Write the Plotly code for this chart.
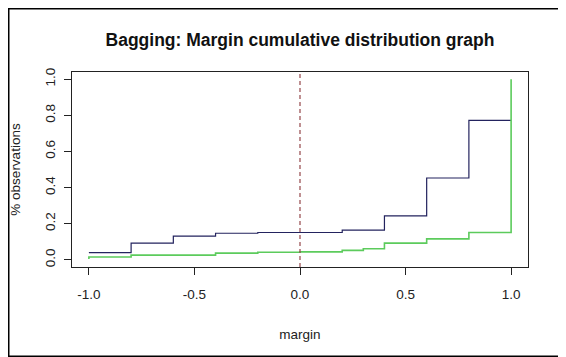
import plotly.graph_objects as go

# ---- data ----
blue_x = [-1.0, -0.8, -0.6, -0.4, -0.2, 0.2, 0.4, 0.6, 0.8, 1.0]
blue_y = [0.040, 0.092, 0.131, 0.147, 0.151, 0.164, 0.243, 0.453, 0.772, 0.772]

green_x = [-1.0, -1.0, -0.8, -0.4, -0.2, 0.0, 0.2, 0.3, 0.4, 0.6, 0.8, 1.0]
green_y = [0.005, 0.015, 0.026, 0.037, 0.042, 0.044, 0.052, 0.061, 0.092, 0.116, 0.151, 1.0]

x_ticks = [-1.0, -0.5, 0.0, 0.5, 1.0]
x_tick_labels = ["-1.0", "-0.5", "0.0", "0.5", "1.0"]
y_ticks = [0.0, 0.2, 0.4, 0.6, 0.8, 1.0]
y_tick_labels = ["0.0", "0.2", "0.4", "0.6", "0.8", "1.0"]

title_text = "Bagging: Margin cumulative distribution graph"
x_title = "margin"
y_title = "% observations"

# page body has an 8px default margin, so the figure is 8px smaller
W, H = 558, 349
L, R, T, B = 64, 38, 64, 90
FONT = "Liberation Sans, Arial, sans-serif"

fig = go.Figure()
fig.add_trace(go.Scatter(x=blue_x, y=blue_y, mode="lines",
                         line=dict(color="#23235e", width=1.2, shape="hv"),
                         showlegend=False, hoverinfo="skip"))
fig.add_trace(go.Scatter(x=green_x, y=green_y, mode="lines",
                         line=dict(color="#5ccb5c", width=1.6, shape="hv"),
                         showlegend=False, hoverinfo="skip"))

# dashed vertical line at margin 0
fig.add_shape(type="line", xref="x", yref="paper", x0=0, x1=0, y0=0, y1=1,
              line=dict(color="#94474a", width=1.2, dash="4px,3px"))

# outer frame around the whole image
pw, ph = W - L - R, H - T - B
fig.add_shape(type="rect", xref="paper", yref="paper",
              x0=(0.75 - L) / pw, x1=(W - 0.75 - L) / pw,
              y0=((H - B) - (H - 0.75)) / ph, y1=((H - B) - 0.75) / ph,
              line=dict(color="black", width=1.5), layer="above")

fig.update_layout(
    width=W, height=H,
    margin=dict(l=L, r=R, t=T, b=B, pad=0, autoexpand=False),
    paper_bgcolor="white", plot_bgcolor="white",
    font=dict(family=FONT, size=13.5, color="#222222"),
    title=dict(text=title_text, x=292 / W, xanchor="center",
               y=1 - 32 / H, yanchor="middle", yref="container",
               font=dict(family=FONT, size=17.5, color="#111111", weight="bold")),
)
fig.update_xaxes(range=[-1.08, 1.08], tickvals=x_ticks, ticktext=x_tick_labels,
                 automargin=False,
                 showgrid=False, zeroline=False, showline=True, linecolor="#222222",
                 linewidth=1.2, mirror=True, ticks="outside", ticklen=7,
                 tickcolor="#222222", tickwidth=1, ticklabelstandoff=8,
                 title=dict(text=x_title, standoff=28,
                            font=dict(family=FONT, size=13.5, color="#222222")))
fig.update_yaxes(range=[-0.04, 1.04], tickvals=y_ticks, ticktext=y_tick_labels,
                 automargin=False,
                 tickangle=-90, showgrid=False, zeroline=False, showline=True,
                 linecolor="#222222", linewidth=1.2, mirror=True, ticks="outside",
                 ticklen=7, tickcolor="#222222", tickwidth=1, ticklabelstandoff=4,
                 title=dict(text=y_title, standoff=23,
                            font=dict(family=FONT, size=13.5, color="#222222")))

fig.write_html("out.html")
